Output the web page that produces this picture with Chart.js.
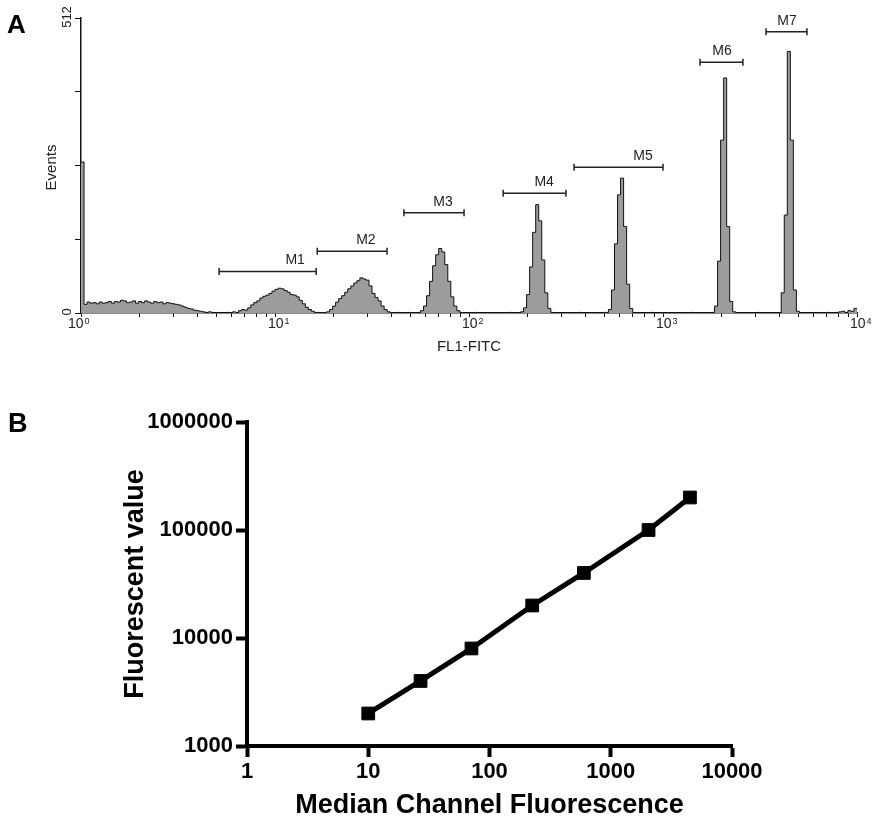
<!DOCTYPE html>
<html>
<head>
<meta charset="utf-8">
<title>FL1 bead calibration</title>
<script src="https://cdn.jsdelivr.net/npm/chart.js@4.4.0/dist/chart.umd.min.js"></script>
<style>
  html, body { margin: 0; padding: 0; background: #fff; }
  #wrap { position: relative; width: 879px; height: 822px; }
  #histA { position: absolute; left: 0; top: 0; }
  #calB { position: absolute; left: 0; top: 370px; }
</style>
</head>
<body>
<div id="wrap">
  <canvas id="histA" width="879" height="360"></canvas>
  <canvas id="calB" width="879" height="452"></canvas>
</div>
<script>
// FL1 histogram: 256 log channels across four decades
const channelsPerDecade = 64;
const fl1Counts = [
  262, 15, 19, 17, 18, 16, 19, 17, 18, 20, 17, 20, 19, 22, 21, 18,
  19, 21, 17, 20, 18, 21, 19, 17, 20, 18, 19, 16, 18, 17, 16, 15,
  14, 12, 10, 8, 7, 5, 4, 3, 2, 1, 2, 1, 0, 1, 0, 0,
  1, 0, 2, 1, 4, 6, 5, 9, 14, 18, 21, 26, 29, 31, 34, 38,
  41, 43, 42, 39, 36, 32, 31, 28, 22, 16, 10, 6, 3, 1, 1, 0,
  1, 2, 6, 12, 19, 25, 30, 36, 42, 47, 52, 56, 61, 59, 57, 47,
  34, 27, 21, 12, 6, 2, 0, 0, 1, 0, 0, 0, 1, 0, 0, 1,
  4, 12, 30, 55, 82, 101, 112, 106, 84, 55, 28, 12, 4, 1, 0, 0,
  0, 0, 1, 0, 0, 0, 0, 0, 0, 0, 0, 0, 0, 1, 0, 0,
  0, 2, 9, 32, 80, 140, 188, 160, 92, 35, 8, 1, 0, 0, 0, 0,
  0, 0, 0, 0, 1, 0, 0, 0, 0, 0, 0, 0, 1, 1, 6, 40,
  120, 205, 234, 150, 50, 8, 1, 0, 0, 0, 0, 0, 1, 0, 0, 0,
  0, 0, 0, 0, 0, 0, 0, 0, 0, 1, 0, 0, 0, 0, 0, 0,
  1, 12, 90, 300, 408, 150, 20, 2, 0, 0, 0, 0, 0, 0, 0, 1,
  0, 0, 0, 0, 0, 0, 0, 35, 170, 454, 300, 40, 3, 0, 0, 0,
  0, 0, 1, 0, 0, 0, 1, 0, 0, 1, 2, 3, 1, 4, 3, 8
];

// marker gates
const gateNames = ['M1', 'M2', 'M3', 'M4', 'M5', 'M6', 'M7'];
const gateLow = [5.15, 16.5, 46.2, 150, 348, 1552, 3396];
const gateHigh = [16.3, 37.8, 94.3, 316, 1000, 2582, 5521];
const gateLevel = [72, 107, 174, 208, 253, 435, 488];
const gateLabelX = [12.7, 29.4, 73.5, 244, 789, 2015, 4357];

const histDecades = [1, 10, 100, 1000, 10000];
const histExponents = ['0', '1', '2', '3', '4'];
const histCountLabels = [0, 512];

// calibration: median channel vs bead fluorescence
const medianChannel = [10, 27, 71, 225, 600, 2050, 4500];
const fluorValue = [2000, 4000, 8000, 20000, 40000, 100000, 200000];
const calTicksX = [1, 10, 100, 1000, 10000];
const calTicksY = [1000, 10000, 100000, 1000000];

const sans = '"Liberation Sans", Arial, Helvetica, sans-serif';
const ink = '#222';

// each channel holds its count from its lower edge up to the next edge
const histPoints = fl1Counts.map((c, i) => ({ x: Math.pow(10, i / channelsPerDecade), y: c }));
histPoints.push({ x: 10000, y: fl1Counts[fl1Counts.length - 1] });

const minorTicks = [];
histDecades.forEach(d => {
  for (let m = 1; m < 10; m++) {
    if (d * m <= 10000) minorTicks.push(d * m);
  }
});

// text for panel A: decade labels with exponents, count labels, gate names
const histText = {
  id: 'histText',
  afterDraw(chart) {
    const { ctx, scales: { x, y } } = chart;
    ctx.save();
    ctx.fillStyle = '#000';
    ctx.font = 'bold 26px ' + sans;
    ctx.textBaseline = 'alphabetic';
    ctx.fillText('A', 7, 33);

    ctx.fillStyle = ink;
    histDecades.forEach((v, i) => {
      const px = x.getPixelForValue(v);
      const left = i === 0 ? px - 13 : px - 7;
      ctx.font = '14px ' + sans;
      ctx.textAlign = 'left';
      ctx.fillText('10', left, y.bottom + 15);
      const w = ctx.measureText('10').width;
      ctx.font = '9px ' + sans;
      ctx.fillText(histExponents[i], left + w + 1, y.bottom + 11);
    });

    ctx.font = '13px ' + sans;
    ctx.textAlign = 'center';
    ctx.textBaseline = 'middle';
    histCountLabels.forEach(v => {
      ctx.save();
      ctx.translate(x.left - 14, y.getPixelForValue(v) - 1);
      ctx.rotate(-Math.PI / 2);
      ctx.fillText(String(v), 0, 0);
      ctx.restore();
    });

    ctx.save();
    ctx.font = '15px ' + sans;
    ctx.translate(x.left - 29, (y.top + y.bottom) / 2 + 2);
    ctx.rotate(-Math.PI / 2);
    ctx.fillText('Events', 0, 0);
    ctx.restore();

    ctx.font = '14px ' + sans;
    gateNames.forEach((name, i) => {
      ctx.fillText(name, x.getPixelForValue(gateLabelX[i]), y.getPixelForValue(gateLevel[i]) - 11);
    });
    ctx.restore();
  }
};

const gateSets = gateNames.map((name, i) => ({
  label: name,
  data: [{ x: gateLow[i], y: gateLevel[i] }, { x: gateHigh[i], y: gateLevel[i] }],
  borderColor: ink,
  borderWidth: 1.5,
  pointStyle: 'line',
  pointRotation: 90,
  pointRadius: 3.5,
  pointBorderColor: ink,
  pointBorderWidth: 1.5,
  fill: false
}));

new Chart(document.getElementById('histA'), {
  type: 'line',
  data: {
    datasets: [
      {
        label: 'FL1-FITC',
        data: histPoints,
        stepped: 'before',
        borderColor: '#111',
        borderWidth: 1,
        backgroundColor: '#9c9c9c',
        fill: 'origin',
        pointRadius: 0
      },
      ...gateSets
    ]
  },
  options: {
    responsive: false,
    animation: false,
    layout: { padding: { left: 0, right: 22, top: 18, bottom: 0 } },
    plugins: { legend: { display: false }, tooltip: { enabled: false } },
    scales: {
      x: {
        type: 'logarithmic',
        min: 1,
        max: 10000,
        afterBuildTicks: s => { s.ticks = minorTicks.map(v => ({ value: v })); },
        afterFit: s => { s.height = 47; },
        ticks: { display: false },
        grid: { drawOnChartArea: false, tickLength: 4, tickColor: '#111', tickWidth: 1 },
        border: { color: '#111', width: 1.5 },
        title: {
          display: true,
          text: 'FL1-FITC',
          color: ink,
          font: { family: sans, size: 15 },
          padding: { top: 0, bottom: 4 }
        }
      },
      y: {
        min: 0,
        max: 512,
        afterFit: s => { s.width = 81; },
        ticks: { display: false, stepSize: 128 },
        grid: { drawOnChartArea: false, tickLength: 6, tickColor: '#111', tickWidth: 1 },
        border: { color: '#111', width: 1.5 }
      }
    }
  },
  plugins: [histText]
});

const panelB = {
  id: 'panelB',
  afterDraw(chart) {
    const { ctx } = chart;
    ctx.save();
    ctx.fillStyle = '#000';
    ctx.font = 'bold 27px ' + sans;
    ctx.fillText('B', 8, 62);
    ctx.restore();
  }
};

const boldTick = { family: sans, size: 22, weight: 'bold' };

new Chart(document.getElementById('calB'), {
  type: 'line',
  data: {
    datasets: [{
      label: 'Fluorescent value',
      data: medianChannel.map((v, i) => ({ x: v, y: fluorValue[i] })),
      borderColor: '#000',
      borderWidth: 5,
      pointStyle: 'rect',
      pointRadius: 9,
      pointBackgroundColor: '#000',
      pointBorderColor: '#000',
      pointBorderWidth: 1,
      fill: false,
      tension: 0
    }]
  },
  options: {
    responsive: false,
    animation: false,
    layout: { padding: { left: 119, right: 147, top: 52, bottom: 0 } },
    plugins: { legend: { display: false }, tooltip: { enabled: false } },
    scales: {
      x: {
        type: 'logarithmic',
        min: 1,
        max: 10000,
        afterBuildTicks: s => { s.ticks = calTicksX.map(v => ({ value: v })); },
        afterFit: s => { s.height = 76; },
        ticks: { callback: v => String(v), color: '#000', font: boldTick, padding: 2, maxRotation: 0, autoSkip: false },
        grid: { drawOnChartArea: false, tickLength: 11, tickWidth: 4, tickColor: '#000' },
        border: { color: '#000', width: 4 },
        title: {
          display: true,
          text: 'Median Channel Fluorescence',
          color: '#000',
          font: { family: sans, size: 27, weight: 'bold' },
          padding: { top: 0, bottom: 0 }
        }
      },
      y: {
        type: 'logarithmic',
        min: 1000,
        max: 1000000,
        afterBuildTicks: s => { s.ticks = calTicksY.map(v => ({ value: v })); },
        afterFit: s => { s.width = 128; },
        ticks: { callback: v => String(v), color: '#000', font: boldTick, padding: 3, autoSkip: false },
        grid: { drawOnChartArea: false, tickLength: 11, tickWidth: 4, tickColor: '#000' },
        border: { color: '#000', width: 4 },
        title: {
          display: true,
          text: 'Fluorescent value',
          color: '#000',
          font: { family: sans, size: 27, weight: 'bold' },
          padding: { top: 0, bottom: 0 }
        }
      }
    }
  },
  plugins: [panelB]
});
</script>
</body>
</html>
